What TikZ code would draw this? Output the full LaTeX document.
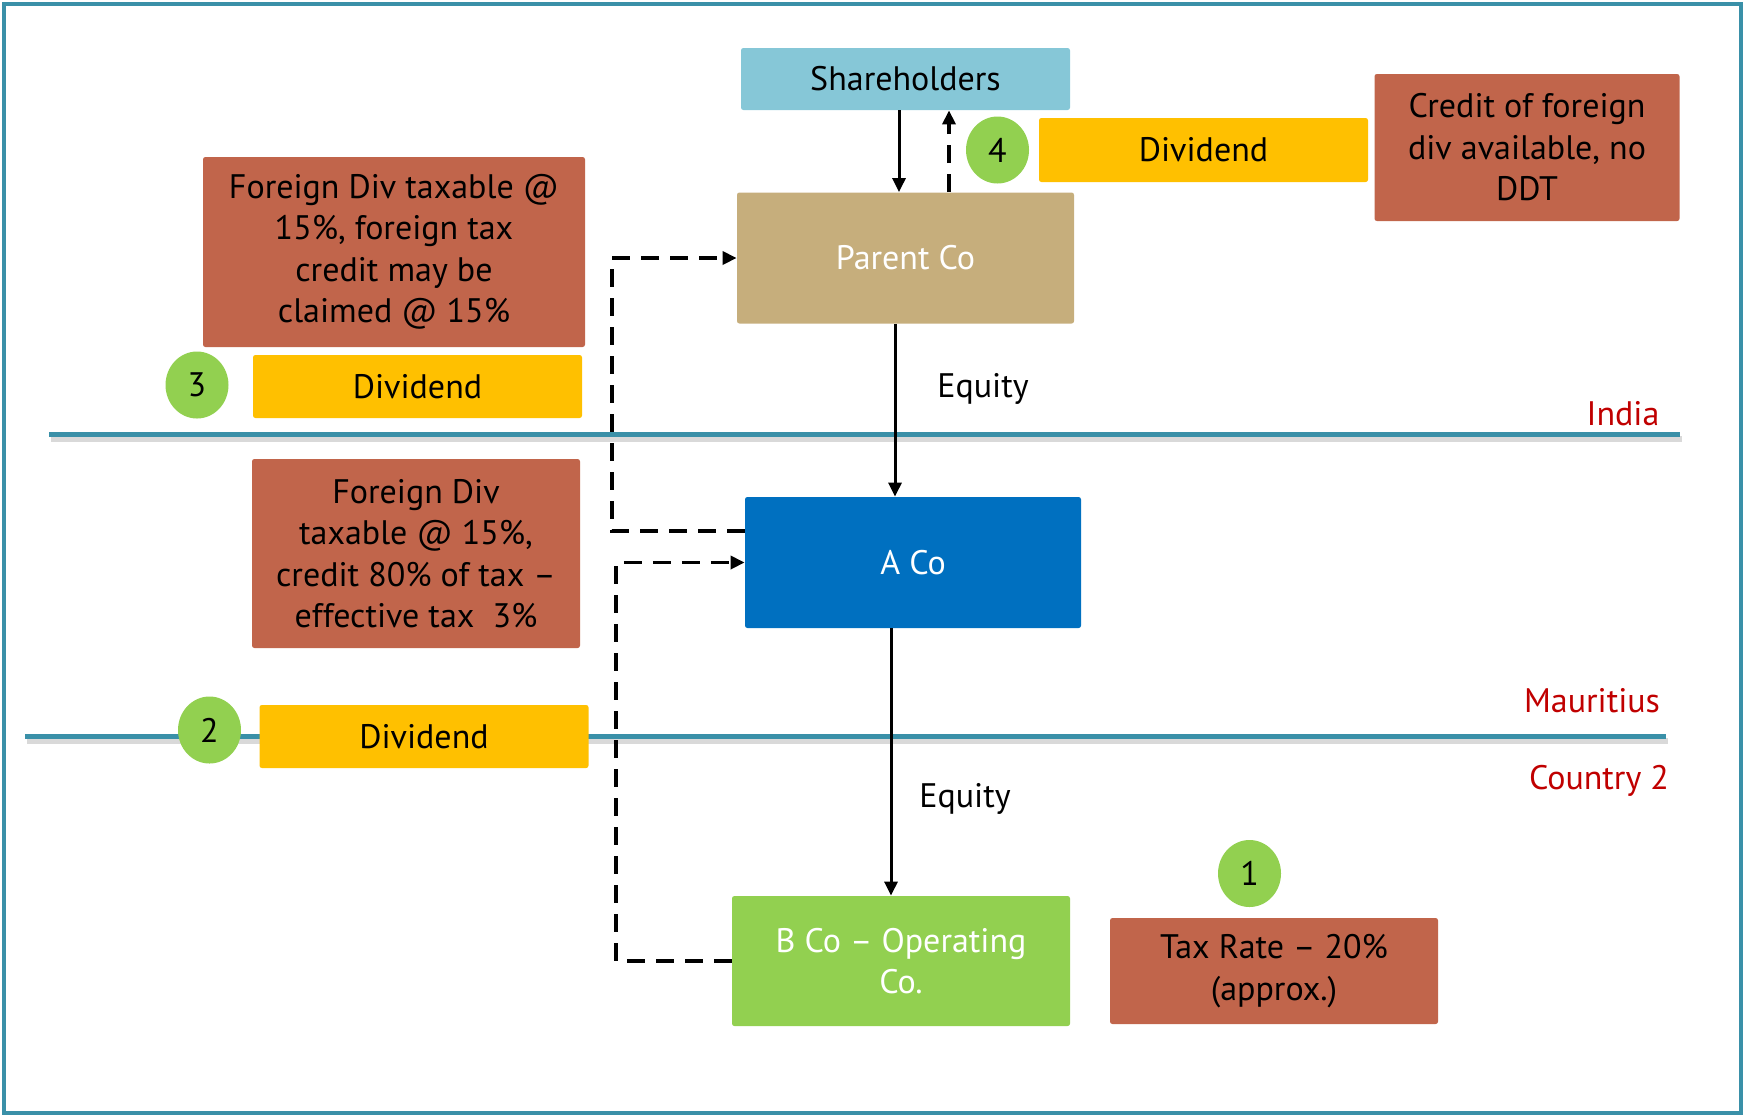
\documentclass[tikz,border=0pt]{standalone}
\usepackage{fontspec}
\setmainfont{PT Sans}
\usetikzlibrary{arrows.meta,shapes.geometric}

\definecolor{frameteal}{HTML}{3A90A8}
\definecolor{shblue}{HTML}{86C7D7}
\definecolor{parenttan}{HTML}{C6AE7C}
\definecolor{acoblue}{HTML}{0070C0}
\definecolor{bcogreen}{HTML}{92D050}
\definecolor{notebrick}{HTML}{C1654B}
\definecolor{divyellow}{HTML}{FFC000}
\definecolor{regionred}{HTML}{C00000}

\tikzset{
  every node/.style={font=\fontsize{17}{20.75}\selectfont},
  blk/.style={rectangle, inner sep=0pt, align=center, rounded corners=1.2pt},
  entity/.style={blk, minimum width=#1, minimum height=65.5pt},
  notebox/.style={blk, fill=notebrick, text=black},
  divbox/.style={blk, fill=divyellow, text=black, minimum width=164.5pt, minimum height=31.5pt},
  stepnum/.style={ellipse, fill=bcogreen, text=black, inner sep=0pt,
                  minimum width=31.5pt, minimum height=33.5pt},
  region/.style={text=regionred},
  sepline/.style={frameteal, line width=2.5pt},
  sepshadow/.style={black!25, line width=3pt, opacity=0.6},
  flow/.style={line width=1.5pt, -{Triangle[length=7pt,width=6.5pt]}},
  flowdash/.style={line width=1.75pt, dash pattern=on 9pt off 5.5pt},
  flowdasharrow/.style={flowdash, -{Triangle[length=7pt,width=6.5pt]}},
}

\begin{document}
\begin{tikzpicture}[x=0.5pt,y=-0.5pt]
\useasboundingbox (0,0) rectangle (1745,1116);

% outer frame
\draw[frameteal, line width=2pt] (4,4) rectangle (1741,1113);

% country separators with a soft shadow
\draw[sepshadow] (51,439) -- (1682,439);
\draw[sepline] (49,434) -- (1680,434);
\draw[sepshadow] (27,741) -- (1668,741);
\draw[sepline] (25,736) -- (1666,736);

% entities
\node[blk, fill=shblue, text=black, minimum width=164.5pt, minimum height=31pt]
  (sh) at (905.5,79) {Shareholders};
\node[entity=168.5pt, fill=parenttan, text=white] (pc) at (905.5,258) {Parent Co};
\node[entity=168pt, fill=acoblue, text=white] (ac) at (913,562.5) {A Co};
\node[entity=169pt, fill=bcogreen, text=white, minimum height=65pt] (bc) at (901,961)
  {B Co – Operating\\Co.};

% tax notes
\node[notebox, minimum width=191pt, minimum height=95pt] (n3) at (394,252)
  {Foreign Div taxable @\\15\%, foreign tax\\credit may be\\claimed @ 15\%};
\node[notebox, minimum width=164pt, minimum height=94.5pt] (n2) at (416,553.5)
  {Foreign Div\\taxable @ 15\%,\\credit 80\% of tax –\\effective tax\ \ 3\%};
\node[notebox, minimum width=152.5pt, minimum height=73.5pt] (n4) at (1527,147.5)
  {Credit of foreign\\div available, no\\DDT};
\node[notebox, minimum width=164pt, minimum height=53pt] (n1) at (1274,971)
  {Tax Rate – 20\%\\(approx.)};

% dividend tags and step numbers
\node[divbox] (d3) at (417.5,386.5) {Dividend};
\node[divbox] (d2) at (424,736.5) {Dividend};
\node[divbox, minimum height=32pt] (d4) at (1203.5,150) {Dividend};
\node[stepnum] (s1) at (1249.5,873.5) {1};
\node[stepnum] (s2) at (209.5,730) {2};
\node[stepnum] (s3) at (197,385) {3};
\node[stepnum] (s4) at (997.5,150) {4};

% labels
\node (eq1) at (983,389) {Equity};
\node (eq2) at (965,799) {Equity};
\node[region] (india) at (1623,414) {India};
\node[region] (maur) at (1592,701) {Mauritius};
\node[region] (c2) at (1599,781) {Country 2};

% connector guide positions
\coordinate (xa) at (899,0);
\coordinate (xb) at (895,0);
\coordinate (xc) at (891,0);
\coordinate (xd) at (949,0);
\coordinate (xl) at (612,0);
\coordinate (xm) at (616,0);
\coordinate (ya) at (0,531);

% equity flows
\draw[flow] (sh.south -| xa) -- (pc.north -| xa);
\draw[flow] (pc.south -| xb) -- (ac.north -| xb);
\draw[flow] (ac.south -| xc) -- (bc.north -| xc);

% dividend flows
\draw[flowdasharrow] (pc.north -| xd) -- (sh.south -| xd);
\draw[flowdasharrow] (ac.west |- ya) -- (xl |- ya) -- (xl |- pc.west) -- (pc.west);
\draw[flowdasharrow] (bc.west) -- (xm |- bc.west) -- (xm |- ac.west) -- (ac.west);
\end{tikzpicture}
\end{document}
